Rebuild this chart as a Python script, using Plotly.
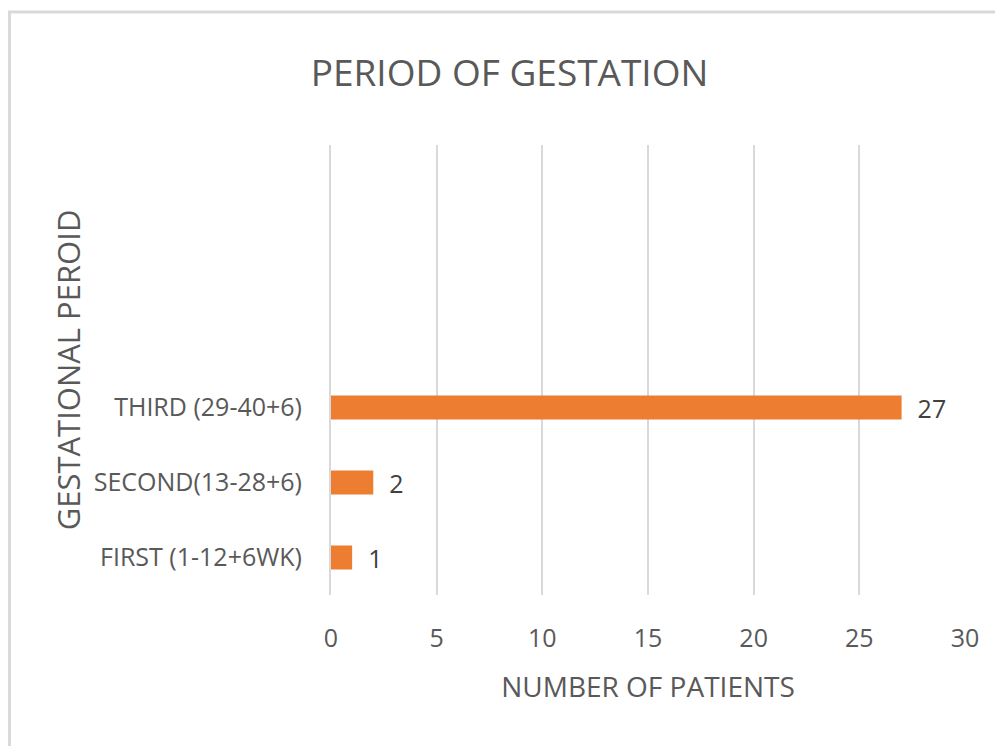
import plotly.graph_objects as go

# ------------ data ------------
periods = ["FIRST (1-12+6WK)", "SECOND(13-28+6)", "THIRD (29-40+6)"]
patients = [1, 2, 27]
x_ticks = [0, 5, 10, 15, 20, 25, 30]

font_family = "Open Sans, sans-serif"
grey_text = "#595959"

fig = go.Figure()
fig.add_trace(go.Bar(
    x=patients, y=periods, orientation="h",
    marker=dict(color="#ed7d31", line=dict(width=0)),
    width=0.32,
    texttemplate="\u00a0\u00a0%{x}", textposition="outside", cliponaxis=False,
    constraintext="none",
    textfont=dict(size=25, color="#404040", family=font_family),
))

fig.update_layout(
    width=1003, height=746,
    margin=dict(l=323, r=46, t=137, b=159),
    paper_bgcolor="white", plot_bgcolor="white",
    showlegend=False,
    font=dict(family=font_family, color=grey_text),
    title=dict(text="PERIOD OF GESTATION", x=0.5, xref="container", xanchor="center",
               y=0.913, yref="container", yanchor="middle",
               font=dict(size=37, color=grey_text, family=font_family)),
)

fig.update_xaxes(
    range=[0, 30], tickvals=x_ticks, showgrid=True, gridcolor="#d9d9d9", gridwidth=2,
    zeroline=False, showline=False, ticks="", ticklabelstandoff=26,
    tickfont=dict(size=25, color=grey_text),
    title=dict(text="NUMBER OF PATIENTS", font=dict(size=28, color=grey_text), standoff=24),
)
fig.update_yaxes(
    type="category", categoryorder="array", categoryarray=periods,
    range=[-0.5, 5.5], showgrid=False, zeroline=False,
    showline=True, linecolor="#d9d9d9", linewidth=2, ticks="", ticklabelstandoff=22,
    tickfont=dict(size=25, color=grey_text),
    title=dict(text="GESTATIONAL PEROID", font=dict(size=31, color=grey_text), standoff=4),
)

# outer chart border
fig.add_shape(type="rect", xref="paper", yref="paper",
              x0=-0.5071, x1=1.2, y0=-0.6, y1=1.2956,
              line=dict(color="#d9d9d9", width=3), layer="below")

fig.write_html("out.html")
